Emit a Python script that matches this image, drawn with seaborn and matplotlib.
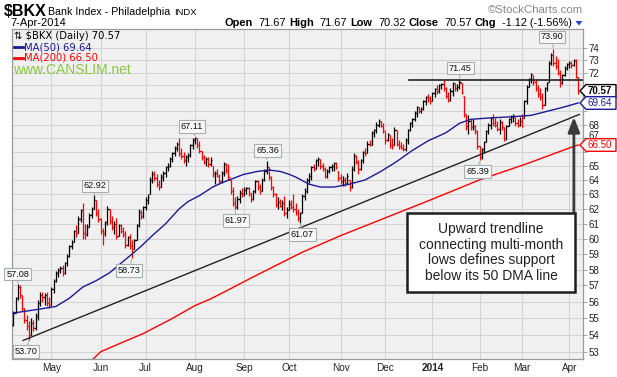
import numpy as np
import pandas as pd
import seaborn as sns
import matplotlib
matplotlib.use("Agg")
import matplotlib.pyplot as plt
from matplotlib.patches import Polygon, Rectangle
from matplotlib.transforms import IdentityTransform, offset_copy

# trading days 8-Apr-2013 .. 7-Apr-2014, NYSE holidays left out
start_date = "2013-04-08"
end_date = "2014-04-07"
holidays = ["2013-05-27", "2013-07-04", "2013-09-02", "2013-11-28",
            "2013-12-25", "2014-01-01", "2014-01-20", "2014-02-17"]

opens = [
    54.6, 55.3, 56.2, 56.9, 56.4, 55.6, 54.9, 54.5, 54.0, 54.7,
    54.4, 55.1, 55.9, 56.4, 56.3, 56.4, 55.9, 55.8, 56.8, 57.3,
    57.8, 58.0, 58.1, 57.8, 58.4, 58.9, 59.5, 59.8, 60.5, 60.4,
    61.3, 61.9, 60.4, 60.3, 60.8, 61.6, 62.0, 62.6, 61.7, 61.3,
    60.5, 60.4, 61.1, 62.0, 61.2, 60.8, 61.0, 60.2, 60.9, 60.5,
    60.3, 59.6, 60.1, 59.5, 59.3, 59.9, 60.9, 61.8, 61.5, 62.1,
    62.6, 63.0, 64.0, 64.4, 64.1, 63.7, 63.5, 64.2, 64.5, 64.9,
    65.0, 65.5, 65.9, 66.3, 66.6, 65.9, 65.7, 65.4, 65.6, 65.8,
    66.5, 66.9, 67.0, 66.5, 66.1, 65.6, 65.3, 65.5, 65.1, 65.0,
    64.4, 64.5, 64.3, 63.9, 64.5, 65.1, 64.7, 64.0, 63.2, 62.4,
    62.1, 62.7, 63.1, 63.0, 63.3, 63.4, 63.1, 62.7, 63.2, 63.9,
    63.5, 63.2, 64.0, 64.6, 64.9, 64.2, 63.5, 63.0, 62.3, 62.5,
    62.2, 62.4, 61.7, 61.9, 62.3, 62.1, 62.0, 61.8, 61.4, 61.7,
    62.9, 63.2, 64.0, 64.3, 64.9, 64.8, 65.4, 65.5, 65.0, 64.8,
    64.3, 64.6, 64.9, 65.0, 65.2, 64.6, 64.1, 63.9, 64.0, 63.8,
    64.0, 63.5, 64.8, 65.7, 65.3, 64.8, 65.4, 66.0, 65.9, 66.6,
    66.5, 67.4, 67.6, 68.0, 68.3, 67.9, 67.5, 66.9, 67.2, 66.5,
    66.5, 67.6, 66.6, 66.4, 66.3, 66.2, 66.9, 67.6, 68.1, 68.4,
    68.9, 69.3, 69.0, 69.2, 69.8, 70.1, 70.0, 69.8, 70.4, 70.7,
    70.6, 71.0, 71.1, 70.8, 70.2, 69.9, 70.6, 71.2, 70.8, 70.9,
    71.2, 70.2, 68.8, 67.9, 68.3, 67.8, 67.9, 67.5, 66.4, 65.6,
    66.2, 66.7, 67.5, 68.0, 68.5, 68.1, 68.0, 67.7, 68.2, 67.8,
    67.0, 67.9, 68.4, 68.6, 68.6, 68.1, 68.0, 68.3, 68.5, 69.8,
    70.9, 71.5, 71.8, 71.3, 70.8, 70.3, 70.1, 69.5, 70.8, 71.3,
    72.8, 73.4, 72.8, 72.5, 72.0, 71.2, 71.8, 72.4, 72.7, 72.8,
    72.6, 73.0, 71.67]

highs = [
    55.4, 56.3, 57.08, 57.0, 56.4, 55.6, 55.2, 54.8, 55.0, 54.9,
    55.3, 56.1, 56.6, 56.6, 56.5, 56.6, 56.3, 56.9, 57.4, 57.9,
    58.1, 58.2, 58.3, 58.5, 59.0, 59.6, 59.9, 60.6, 60.9, 61.5,
    62.0, 62.4, 61.0, 61.0, 61.7, 62.1, 62.92, 62.6, 62.0, 61.4,
    60.7, 61.2, 62.2, 62.0, 61.5, 61.2, 61.4, 61.0, 61.0, 60.8,
    60.5, 60.2, 60.3, 59.9, 60.0, 61.0, 62.0, 61.9, 62.2, 62.8,
    63.0, 64.2, 64.6, 64.6, 64.4, 64.0, 64.4, 64.6, 65.0, 65.2,
    65.6, 66.0, 66.4, 66.7, 67.0, 66.3, 66.0, 65.8, 65.9, 66.6,
    67.0, 67.11, 67.0, 66.8, 66.1, 65.8, 65.6, 65.6, 65.6, 65.0,
    64.6, 64.8, 64.4, 64.6, 65.3, 65.2, 65.1, 64.0, 63.5, 62.8,
    62.9, 63.3, 63.4, 63.5, 63.5, 63.5, 63.1, 63.3, 64.0, 64.0,
    63.7, 64.1, 64.8, 65.36, 64.9, 64.3, 63.6, 63.1, 62.8, 62.7,
    62.6, 62.9, 62.1, 62.6, 62.6, 63.0, 62.4, 62.0, 61.8, 63.0,
    63.4, 64.1, 64.5, 65.0, 65.1, 65.5, 65.6, 65.5, 65.2, 64.9,
    64.8, 65.0, 65.1, 65.3, 65.3, 64.6, 64.4, 64.3, 64.2, 64.5,
    64.0, 65.0, 65.9, 65.8, 65.4, 65.5, 66.1, 66.3, 66.8, 66.9,
    67.5, 67.7, 68.2, 68.4, 68.3, 68.1, 67.5, 67.4, 67.2, 67.0,
    67.8, 67.6, 66.9, 66.7, 66.6, 67.0, 67.7, 68.2, 68.5, 69.0,
    69.4, 69.3, 69.3, 69.9, 70.2, 70.3, 70.2, 70.5, 70.8, 71.0,
    71.1, 71.2, 71.4, 70.9, 70.5, 70.8, 71.3, 71.2, 71.1, 71.45,
    71.2, 70.2, 68.8, 68.7, 68.4, 68.4, 68.0, 67.6, 66.4, 66.3,
    66.8, 67.6, 68.1, 68.6, 68.8, 68.5, 68.3, 68.4, 68.3, 67.8,
    68.0, 68.5, 68.7, 68.8, 68.6, 68.4, 68.6, 68.8, 69.9, 71.0,
    71.6, 72.0, 71.8, 71.5, 71.0, 70.8, 70.4, 70.9, 71.3, 72.9,
    73.6, 73.90, 73.3, 73.1, 72.2, 71.9, 72.5, 72.8, 72.9, 72.9,
    73.1, 73.1, 71.67]

lows = [
    54.5, 55.3, 56.1, 56.2, 55.4, 54.7, 54.3, 53.70, 54.0, 54.2,
    54.3, 54.9, 55.7, 56.0, 55.8, 55.7, 55.6, 55.8, 56.5, 57.2,
    57.5, 57.8, 57.6, 57.7, 58.2, 58.8, 59.3, 59.8, 60.1, 60.4,
    61.1, 60.0, 60.0, 60.2, 60.8, 61.4, 62.0, 61.5, 61.1, 60.3,
    59.6, 60.2, 60.9, 61.0, 60.6, 60.3, 60.0, 60.2, 60.4, 60.1,
    59.4, 59.5, 59.3, 58.73, 59.3, 59.9, 60.8, 61.3, 61.4, 61.9,
    62.3, 63.0, 63.8, 63.9, 63.5, 63.3, 63.5, 63.9, 64.2, 64.6,
    64.9, 65.3, 65.7, 66.1, 65.7, 65.5, 65.2, 65.0, 65.3, 65.6,
    66.2, 66.6, 66.3, 65.9, 65.4, 65.1, 65.0, 64.9, 65.0, 64.2,
    63.7, 64.2, 63.7, 63.8, 64.3, 64.5, 64.0, 63.0, 62.2, 61.97,
    62.0, 62.4, 62.8, 62.9, 63.0, 62.9, 62.5, 62.6, 63.1, 63.3,
    63.0, 63.2, 63.9, 64.4, 64.0, 63.3, 62.8, 62.1, 62.0, 62.1,
    61.9, 61.5, 61.4, 61.9, 62.0, 61.8, 61.6, 61.2, 61.07, 61.7,
    62.6, 63.1, 63.8, 64.0, 64.6, 64.8, 65.0, 64.8, 64.6, 64.1,
    64.1, 64.5, 64.6, 64.6, 64.8, 63.9, 63.7, 63.6, 63.6, 63.7,
    63.2, 63.4, 64.6, 65.1, 64.4, 64.7, 65.2, 65.7, 65.9, 66.4,
    66.5, 67.1, 67.4, 67.8, 67.8, 67.4, 66.6, 66.8, 66.3, 66.2,
    66.5, 66.4, 66.2, 66.2, 66.1, 66.1, 66.6, 67.5, 67.8, 68.3,
    68.6, 68.9, 68.9, 69.1, 69.5, 69.7, 69.6, 69.8, 70.1, 70.3,
    70.4, 70.7, 70.6, 70.0, 69.7, 69.8, 70.2, 70.6, 70.6, 70.7,
    70.3, 68.6, 67.6, 67.3, 67.6, 67.6, 67.3, 66.2, 65.39, 65.5,
    65.9, 66.7, 67.3, 67.7, 67.9, 67.8, 67.5, 67.3, 67.6, 66.8,
    66.9, 67.9, 68.1, 68.2, 67.9, 67.8, 67.9, 67.8, 68.5, 69.6,
    70.9, 71.2, 71.0, 70.6, 70.1, 69.9, 69.2, 69.5, 70.6, 71.3,
    72.6, 72.5, 72.3, 71.8, 70.9, 71.1, 71.7, 72.2, 72.4, 72.4,
    72.5, 71.6, 70.32]

closes = [
    55.3, 56.2, 56.9, 56.4, 55.6, 54.9, 54.5, 54.0, 54.7, 54.4,
    55.1, 55.9, 56.4, 56.3, 56.4, 55.9, 55.8, 56.8, 57.3, 57.8,
    58.0, 58.1, 57.8, 58.4, 58.9, 59.5, 59.8, 60.5, 60.4, 61.3,
    61.9, 60.4, 60.3, 60.8, 61.6, 62.0, 62.6, 61.7, 61.3, 60.5,
    60.4, 61.1, 62.0, 61.2, 60.8, 61.0, 60.2, 60.9, 60.5, 60.3,
    59.6, 60.1, 59.5, 59.1, 59.9, 60.9, 61.8, 61.5, 62.1, 62.6,
    62.8, 64.0, 64.4, 64.1, 63.7, 63.5, 64.2, 64.5, 64.9, 65.0,
    65.5, 65.9, 66.3, 66.6, 65.9, 65.7, 65.4, 65.6, 65.8, 66.5,
    66.9, 67.0, 66.5, 66.1, 65.6, 65.3, 65.5, 65.1, 65.4, 64.4,
    64.5, 64.3, 63.9, 64.5, 65.1, 64.7, 64.2, 63.2, 62.4, 62.1,
    62.7, 63.1, 63.0, 63.3, 63.4, 63.1, 62.7, 63.2, 63.9, 63.5,
    63.2, 64.0, 64.6, 64.9, 64.2, 63.5, 63.0, 62.3, 62.5, 62.2,
    62.4, 61.7, 61.9, 62.3, 62.1, 62.0, 61.8, 61.4, 61.7, 62.9,
    63.2, 64.0, 64.3, 64.9, 64.8, 65.4, 65.5, 65.0, 64.8, 64.3,
    64.6, 64.9, 65.0, 65.2, 64.9, 64.1, 63.9, 64.0, 63.8, 64.3,
    63.5, 64.8, 65.7, 65.3, 64.8, 65.4, 66.0, 65.9, 66.6, 66.5,
    67.4, 67.6, 68.0, 68.3, 67.9, 67.6, 66.9, 67.3, 66.5, 66.4,
    67.6, 66.6, 66.4, 66.3, 66.2, 66.9, 67.6, 68.1, 68.4, 68.9,
    69.3, 69.0, 69.2, 69.8, 70.1, 70.0, 69.8, 70.4, 70.7, 70.6,
    71.0, 71.1, 70.8, 70.2, 69.9, 70.6, 71.2, 70.8, 70.9, 71.3,
    70.5, 68.8, 67.9, 68.3, 67.8, 67.9, 67.5, 66.4, 65.6, 66.2,
    66.7, 67.5, 68.0, 68.5, 68.1, 68.0, 67.7, 68.2, 67.8, 67.0,
    67.9, 68.4, 68.6, 68.7, 68.1, 68.0, 68.3, 67.9, 69.8, 70.9,
    71.5, 71.9, 71.3, 70.8, 70.3, 70.1, 69.5, 70.8, 71.2, 72.8,
    73.4, 72.8, 72.5, 72.0, 71.2, 71.8, 72.4, 72.7, 72.8, 72.6,
    72.9, 71.69, 70.57]

# moving averages (bar index, value)
ma50_idx = [0, 10, 19, 25, 31, 37, 43, 48, 53, 57, 62, 68, 74, 78, 83, 89, 93,
            98, 103, 109, 114, 119, 123, 126, 132, 137, 143, 150, 157, 164, 171,
            178, 185, 193, 199, 204, 212, 223, 231, 238, 245, 252]
ma50_val = [55.3, 55.5, 55.7, 56.2, 56.9, 57.3, 57.8, 58.4, 59.0, 59.5, 60.2,
            61.0, 62.0, 62.5, 62.9, 63.5, 63.8, 64.1, 64.4, 64.6, 64.7, 64.6,
            64.4, 64.2, 63.7, 63.5, 63.5, 63.7, 64.0, 64.6, 65.3, 66.1, 66.8,
            67.4, 68.1, 68.4, 68.5, 68.6, 68.7, 69.0, 69.3, 69.64]
ma200_idx = [35, 39, 47, 58, 70, 81, 88, 97, 106, 117, 129, 146, 164, 186,
             208, 230, 250, 252]
ma200_val = [52.5, 53.0, 53.45, 54.07, 54.9, 55.75, 56.16, 56.8, 57.46, 58.25,
             59.12, 60.2, 61.27, 62.6, 64.0, 65.2, 66.4, 66.50]

# hand drawn lines
trend_idx = [4.4, 252.5]
trend_val = [53.66, 68.77]
resist_idx = [176.5, 254.3]
resist_val = [71.45, 71.45]

# labelled highs / lows
peak_idx = [2, 7, 36, 53, 81, 99, 113, 128, 199, 208, 241]
peak_val = [57.08, 53.70, 62.92, 58.73, 67.11, 61.97, 65.36, 61.07, 71.45, 65.39, 73.90]
peak_txt = ["57.08", "53.70", "62.92", "58.73", "67.11", "61.97", "65.36",
            "61.07", "71.45", "65.39", "73.90"]

month_labels = ["May", "Jun", "Jul", "Aug", "Sep", "Oct", "Nov", "Dec",
                "2014", "Feb", "Mar", "Apr"]
y_ticks = list(range(53, 75))
hidden_ticks = [66, 67, 69, 70, 71]  # sit under the price tags

last_close, last_ma50, last_ma200 = 70.57, 69.64, 66.50

W, H = 617, 377
plt.rcParams["font.family"] = ["DejaVu Sans"]


def fxy(x, y):
    # pixel (from top-left) -> figure fraction
    return x / W, 1 - y / H


days = pd.bdate_range(start_date, end_date, freq="C", holidays=holidays)
idx = np.arange(len(days))
month_pos = [i for i in range(1, len(days)) if days[i].month != days[i - 1].month]

df = pd.DataFrame({"i": idx, "open": opens, "high": highs, "low": lows, "close": closes})
prev = df["close"].shift(1).fillna(df["close"])
bar_col = np.where(df["close"] >= prev, "#000000", "#ff0000")

fig = plt.figure(figsize=(W / 100, H / 100), dpi=100)
ax = fig.add_axes([11.7 / W, 1 - 359.3 / H, (583.3 - 11.7) / W, (359.3 - 29.5) / H])
ax.set_facecolor("#f0f0f0")
ax.set_yscale("log")
ax.set_xlim(-0.7, 254.3)
ax.set_ylim(52.56, 75.49)

ax.set_axisbelow(True)
ax.set_yticks(y_ticks)
ax.set_yticklabels(["" if v in hidden_ticks else str(v) for v in y_ticks])
ax.yaxis.set_minor_locator(matplotlib.ticker.NullLocator())
ax.yaxis.tick_right()
ax.set_xticks(month_pos)
ax.set_xticklabels(month_labels)
ax.xaxis.get_ticklabels()[8].set_fontweight("bold")
ax.tick_params(axis="y", length=3, width=0.6, pad=1, labelsize=7, colors="#9a9a9a",
               labelcolor="#222222")
ax.tick_params(axis="x", length=0, pad=3, labelsize=7.2, labelcolor="#222222")
for lab in ax.get_xticklabels() + ax.get_yticklabels():
    lab.set_family("Liberation Sans")
ax.grid(True, color="#d2d2d2", lw=0.7)
for s in ax.spines.values():
    s.set_color("#9a9a9a")
    s.set_linewidth(0.9)

# the 67 label is half covered by the MA(200) tag, nudge it up a little
lab67 = offset_copy(ax.get_yaxis_transform(), fig=fig, x=5.5, y=2.5, units="dots")
ax.text(1, 67, "67", transform=lab67, fontsize=7, family="Liberation Sans",
        color="#222222", ha="left", va="center")

# OHLC bars
ax.vlines(df["i"], df["low"], df["high"], colors=bar_col, lw=0.9, zorder=3)
ax.hlines(df["open"], df["i"] - 0.55, df["i"], colors=bar_col, lw=0.9, zorder=3)
ax.hlines(df["close"], df["i"], df["i"] + 0.55, colors=bar_col, lw=0.9, zorder=3)

# moving averages and drawn lines
sns.lineplot(x=ma200_idx, y=ma200_val, ax=ax, color="#ff0000", lw=1.0, zorder=2)
sns.lineplot(x=ma50_idx, y=ma50_val, ax=ax, color="#1a1a99", lw=1.0, zorder=4)
sns.lineplot(x=trend_idx, y=trend_val, ax=ax, color="#222222", lw=1.0, zorder=4)
sns.lineplot(x=resist_idx, y=resist_val, ax=ax, color="#222222", lw=1.2, zorder=4)
ax.set_xlabel("")
ax.set_ylabel("")

# high / low value tags
offsets = [(0, 10), (-3, -12), (1, 9.5), (-3, -12), (-3, 10.5), (1, -11),
           (1, 10), (2, -12), (1, 11.5), (-2, -11), (-1.5, 12)]
for i, v, t, (ox, oy) in zip(peak_idx, peak_val, peak_txt, offsets):
    ax.annotate(t, xy=(i, v), xytext=(ox, oy), textcoords="offset pixels",
                ha="center", va="center", fontsize=6.6, family="Liberation Sans",
                color="#111111", zorder=6,
                bbox=dict(boxstyle="square,pad=0.2", fc="#f8f8f8", ec="#a3b0b0", lw=0.8),
                arrowprops=dict(arrowstyle="-", color="#a3b0b0", lw=0.8,
                                shrinkA=0, shrinkB=1))

# callout box with arrow to the trendline
ax.annotate("", xy=(250.1, 68.58), xytext=(250.1, 61.72),
            arrowprops=dict(arrowstyle="-|>,head_length=0.9,head_width=0.35",
                            color="#3a3a3a", lw=2.0, mutation_scale=10,
                            shrinkA=0, shrinkB=0), zorder=7)
x0, y0 = fxy(406.7, 291.7)
fig.add_artist(Rectangle((x0, y0), (575 - 406.7) / W, (291.7 - 213.3) / H,
                         transform=fig.transFigure, fc="white", ec="#1e1e1e",
                         lw=1.8, zorder=8))
fig.text(*fxy(491, 252.5),
         "Upward trendline\nconnecting multi-month\nlows defines support\nbelow its 50 DMA line",
         ha="center", va="center", fontsize=10, family="Liberation Sans",
         color="#222222", linespacing=1.15, zorder=9)

# price tags on the right axis
fig.canvas.draw()
for val, col, wt in [(last_close, "#000000", "bold"), (last_ma50, "#1a1a99", "normal"),
                     (last_ma200, "#ff0000", "normal")]:
    yd = ax.transData.transform((0, val))[1]
    pts = [(580, yd), (586, yd + 6.3), (616, yd + 6.3), (616, yd - 6.3), (586, yd - 6.3)]
    fig.add_artist(Polygon(pts, closed=True, transform=IdentityTransform(),
                           fc="white", ec=col, lw=1.0, zorder=10))
    fig.text(587.5 / W, yd / H, f"{val:.2f}", ha="left", va="center", fontsize=7,
             family="Liberation Sans", fontweight=wt, color=col, zorder=11)

# header
fig.text(*fxy(4, 15.5), "$BKX", fontsize=11.5, fontweight="bold",
         family="Liberation Sans", va="baseline")
fig.text(*fxy(48, 15), "Bank Index - Philadelphia", fontsize=7.7,
         family="Liberation Sans", va="baseline")
fig.text(*fxy(174, 15), "INDX", fontsize=6.8, family="Liberation Sans", va="baseline")
fig.text(*fxy(10, 26.5), "7-Apr-2014", fontsize=8, family="Liberation Sans", va="baseline")
fig.text(*fxy(583, 13), "\u00a9StockCharts.com", fontsize=8.2, color="#888888",
         family="Liberation Sans", ha="right", va="baseline")

segments = [("Open", "bold"), ("71.67", "normal"), ("High", "bold"), ("71.67", "normal"),
            ("Low", "bold"), ("70.32", "normal"), ("Close", "bold"), ("70.57", "normal"),
            ("Chg", "bold"), ("-1.12 (-1.56%)", "normal")]
rend = fig.canvas.get_renderer()
xp = 572.5
for s, w in reversed(segments):
    t = fig.text(*fxy(xp, 26.5), s, fontsize=7.9, fontweight=w, family="Liberation Sans",
                 ha="right", va="baseline")
    gap = 3 if w == "bold" else 6
    xp -= t.get_window_extent(rend).width + gap
fig.add_artist(Polygon([fxy(575.5, 21), fxy(582.5, 21), fxy(579, 25.5)], closed=True,
                       transform=fig.transFigure, fc="#2244dd", ec="none"))

# legend lines inside the chart
fig.text(*fxy(14, 39), "\u21c5 $BKX (Daily) 70.57", fontsize=7.2, va="baseline")
fig.add_artist(plt.Line2D([14 / W, 23 / W], [1 - 47 / H] * 2, color="#1a1a99", lw=2))
fig.text(*fxy(24, 50), "MA(50) 69.64", fontsize=7.2, color="#1a1a99", va="baseline")
fig.add_artist(plt.Line2D([14 / W, 23 / W], [1 - 58 / H] * 2, color="#ff0000", lw=2))
fig.text(*fxy(24, 61), "MA(200) 66.50", fontsize=7.2, color="#ff0000", va="baseline")
fig.text(*fxy(13, 74.5), "www.CANSLIM.net", fontsize=10, color="#88c640",
         family="Liberation Sans", va="baseline")

fig.savefig("out.png", dpi=100)
